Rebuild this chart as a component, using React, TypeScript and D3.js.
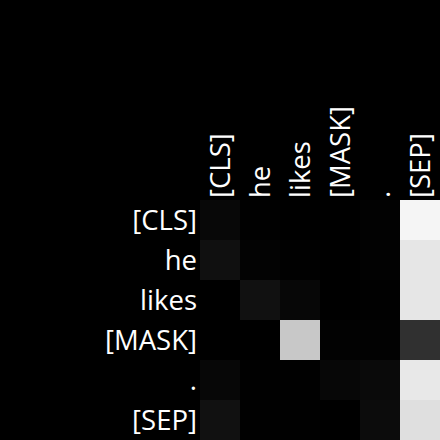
import React, { useEffect, useRef } from 'react';
import * as d3 from 'd3';

const tokens = ['[CLS]', 'he', 'likes', '[MASK]', '.', '[SEP]'];

// attention weights, one row per query token
const rowCLS = [0.031, 0.004, 0.0, 0.0, 0.008, 0.961];
const rowHe = [0.063, 0.012, 0.004, 0.0, 0.008, 0.902];
const rowLikes = [0.0, 0.067, 0.027, 0.0, 0.004, 0.902];
const rowMask = [0.0, 0.0, 0.784, 0.008, 0.008, 0.188];
const rowDot = [0.027, 0.004, 0.004, 0.027, 0.039, 0.91];
const rowSep = [0.067, 0.004, 0.004, 0.0, 0.047, 0.875];

const weights = [rowCLS, rowHe, rowLikes, rowMask, rowDot, rowSep];

function App() {
  const svgRef = useRef<SVGSVGElement>(null);

  useEffect(() => {
    const W = 440;
    const H = 440;
    const margin = { top: 200, left: 200 };

    const svg = d3.select(svgRef.current);
    svg.selectAll('*').remove();
    svg.attr('width', W).attr('height', H);

    svg.append('rect').attr('width', W).attr('height', H).attr('fill', '#000');

    const x = d3.scaleBand().domain(tokens).range([margin.left, W]);
    const y = d3.scaleBand().domain(tokens).range([margin.top, H]);
    const color = d3.scaleLinear<string>().domain([0, 1]).range(['#000', '#fff']);

    const cells = weights.flatMap((row, i) =>
      row.map((v, j) => ({ q: tokens[i], k: tokens[j], v }))
    );

    svg.append('g')
      .selectAll('rect')
      .data(cells)
      .join('rect')
      .attr('x', d => x(d.k)!)
      .attr('y', d => y(d.q)!)
      .attr('width', x.bandwidth())
      .attr('height', y.bandwidth())
      .attr('fill', d => color(d.v));

    const fontSize = 27.5;

    // row labels
    svg.append('g')
      .selectAll('text')
      .data(tokens)
      .join('text')
      .attr('x', margin.left - 3)
      .attr('y', d => y(d)! + y.bandwidth() / 2 + 10)
      .attr('text-anchor', 'end')
      .attr('fill', '#fff')
      .attr('font-family', 'Open Sans')
      .attr('font-size', fontSize)
      .text(d => d);

    // column labels
    svg.append('g')
      .selectAll('text')
      .data(tokens)
      .join('text')
      .attr('transform', d => `translate(${x(d)! + x.bandwidth() / 2 + 10},${margin.top - 2}) rotate(-90)`)
      .attr('text-anchor', 'start')
      .attr('fill', '#fff')
      .attr('font-family', 'Open Sans')
      .attr('font-size', fontSize)
      .text(d => d);
  }, []);

  return <svg ref={svgRef} style={{ position: 'absolute', left: 0, top: 0, display: 'block' }}></svg>;
}

export default App;
